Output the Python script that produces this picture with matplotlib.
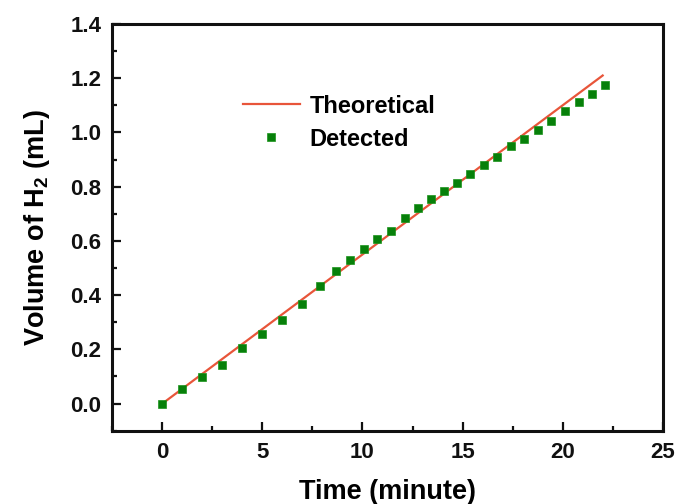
import numpy as np
import matplotlib
matplotlib.use("Agg")
import matplotlib.pyplot as plt
from matplotlib.ticker import MultipleLocator

plt.rcParams['font.family'] = ['Liberation Sans', 'DejaVu Sans']
plt.rcParams['font.weight'] = 'bold'
plt.rcParams['mathtext.fontset'] = 'custom'
plt.rcParams['mathtext.rm'] = 'Liberation Sans:bold'
plt.rcParams['mathtext.bf'] = 'Liberation Sans:bold'

# theoretical H2 evolution (straight line) and measured volumes
theory_t = [0, 22]
theory_v = [0, 1.21]

detected_t = [0, 1, 2, 3, 4, 5, 6, 7, 7.9, 8.7, 9.4, 10.1, 10.7, 11.4, 12.1,
              12.75, 13.4, 14.05, 14.7, 15.35, 16.05, 16.7, 17.4, 18.05,
              18.75, 19.4, 20.1, 20.8, 21.45, 22.1]
detected_v = [0, 0.055, 0.099, 0.144, 0.205, 0.258, 0.307, 0.368, 0.434,
              0.489, 0.530, 0.571, 0.606, 0.636, 0.685, 0.720, 0.756, 0.785,
              0.814, 0.845, 0.879, 0.908, 0.949, 0.975, 1.009, 1.044, 1.079,
              1.113, 1.140, 1.176]

fig = plt.figure(figsize=(6.77, 5.04), dpi=100)
ax = fig.add_axes([0.1659, 0.1454, 0.8130, 0.8070])

ax.plot(theory_t, theory_v, color='#e8553a', lw=1.6, label='Theoretical', zorder=2)
ax.plot(detected_t, detected_v, ls='none', marker='s', ms=5.2,
        color='#07800a', mec='#1a931a', mew=0.5, label='Detected', zorder=3)

ax.set_xlim(-2.5, 25)
ax.set_ylim(-0.1, 1.4)
ax.xaxis.set_major_locator(MultipleLocator(5))
ax.xaxis.set_minor_locator(MultipleLocator(2.5))
ax.yaxis.set_minor_locator(MultipleLocator(0.1))
yt = np.arange(0, 1.41, 0.2)
ax.set_yticks(yt)
ax.set_yticklabels([f"{v:.1f}" for v in yt])

for s in ax.spines.values():
    s.set_linewidth(2.2)
    s.set_color('#111111')
ax.tick_params(which='both', direction='in', top=False, right=False,
               width=1.6, colors='#111111', labelsize=16)
ax.tick_params(which='major', length=6.5, pad=8)
ax.tick_params(which='minor', length=3.5)
for lab in ax.get_xticklabels() + ax.get_yticklabels():
    lab.set_fontweight('bold')

ax.set_xlabel('Time (minute)', fontsize=19.5, fontweight='bold', labelpad=12)
ax.set_ylabel(r'Volume of H$_2$ (mL)', fontsize=19.5, fontweight='bold', labelpad=13)

leg = ax.legend(loc='upper left', bbox_to_anchor=(0.2375, 0.826), frameon=False,
                fontsize=17, handlelength=2.4, handletextpad=0.42,
                labelspacing=0.42, borderpad=0, borderaxespad=0, numpoints=1)
for t in leg.get_texts():
    t.set_fontweight('bold')

fig.savefig('out.png', dpi=100)
